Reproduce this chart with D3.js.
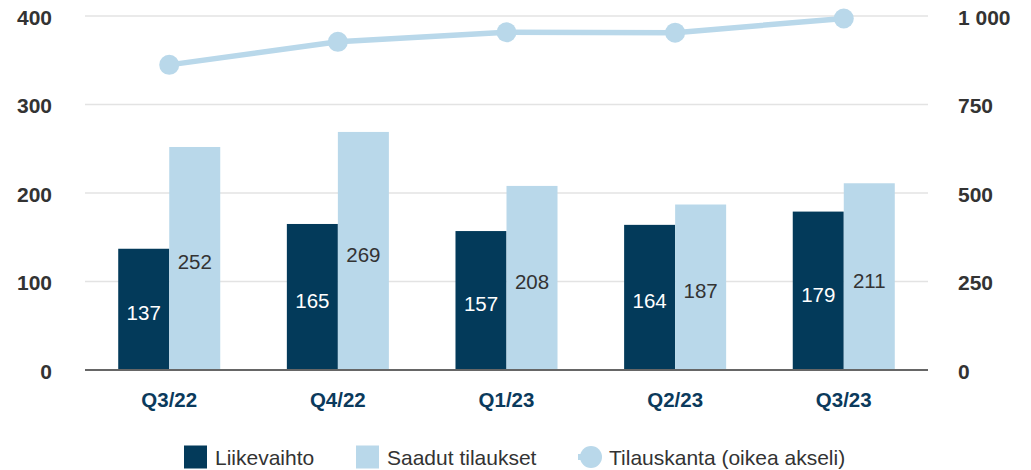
<!DOCTYPE html>
<html>
<head>
<meta charset="utf-8">
<script src="https://cdn.jsdelivr.net/npm/d3@7"></script>
<style>
  body { margin: 0; background: #fff; }
  text { font-family: "Liberation Sans", Arial, sans-serif; }
</style>
</head>
<body>
<script>
var quarters = ["Q3/22", "Q4/22", "Q1/23", "Q2/23", "Q3/23"];
var liikevaihto = [137, 165, 157, 164, 179];
var tilaukset = [252, 269, 208, 187, 211];
var tilauskanta = [862, 927, 954, 953, 993];
var leftTicks = [0, 100, 200, 300, 400];
var rightTicks = [0, 250, 500, 750, 1000];

var dark = "#033a5a", light = "#b9d8ea";

var margin = {top: 16, right: 103, bottom: 100, left: 85},
    width = 1031 - margin.left - margin.right,
    height = 470 - margin.top - margin.bottom;

var svg = d3.select("body").append("svg")
    .attr("width", 1031)
    .attr("height", 470)
  .append("g")
    .attr("transform", "translate(" + margin.left + "," + margin.top + ")");

var x = d3.scaleBand().domain(quarters).range([0, width]).paddingInner(0.395).paddingOuter(0.197);
var y = d3.scaleLinear().domain([0, 400]).range([height, 0]);
var y2 = d3.scaleLinear().domain([0, 1000]).range([height, 0]);
var bw = x.bandwidth() / 2;

// grid
svg.selectAll("line.grid")
    .data(leftTicks.slice(1))
  .enter().append("line")
    .attr("x1", 0).attr("x2", width)
    .attr("y1", function(d) { return y(d); })
    .attr("y2", function(d) { return y(d); })
    .attr("stroke", "#e3e3e3")
    .attr("stroke-width", 1.5);

// left axis
var yAxis = svg.append("g")
    .call(d3.axisLeft(y).tickValues(leftTicks).tickSize(0).tickPadding(33));
yAxis.select(".domain").remove();
yAxis.selectAll("text")
    .attr("dy", ".4em")
    .style("font-size", "21px").style("font-weight", "bold").attr("fill", "#333");

// right axis
var yAxis2 = svg.append("g")
    .attr("transform", "translate(" + width + ",0)")
    .call(d3.axisRight(y2).tickValues(rightTicks).tickSize(0).tickPadding(30)
      .tickFormat(function(d) { return d3.format(",")(d).replace(",", " "); }));
yAxis2.select(".domain").remove();
yAxis2.selectAll("text")
    .attr("dy", ".4em")
    .style("font-size", "21px").style("font-weight", "bold").attr("fill", "#333");

// bars
svg.selectAll("rect.lv")
    .data(liikevaihto)
  .enter().append("rect")
    .attr("x", function(d, i) { return x(quarters[i]); })
    .attr("y", function(d) { return y(d); })
    .attr("width", bw)
    .attr("height", function(d) { return height - y(d); })
    .attr("fill", dark);

svg.selectAll("rect.st")
    .data(tilaukset)
  .enter().append("rect")
    .attr("x", function(d, i) { return x(quarters[i]) + bw; })
    .attr("y", function(d) { return y(d); })
    .attr("width", bw)
    .attr("height", function(d) { return height - y(d); })
    .attr("fill", light);

// bar labels
svg.selectAll("text.lv")
    .data(liikevaihto)
  .enter().append("text")
    .attr("x", function(d, i) { return x(quarters[i]) + bw / 2; })
    .attr("y", function(d) { return (y(d) + height) / 2 + 3.5; })
    .attr("dy", ".36em")
    .attr("text-anchor", "middle")
    .style("font-size", "20.5px")
    .attr("fill", "#fff")
    .text(function(d) { return d; });

svg.selectAll("text.st")
    .data(tilaukset)
  .enter().append("text")
    .attr("x", function(d, i) { return x(quarters[i]) + bw * 1.5; })
    .attr("y", function(d) { return (y(d) + height) / 2 + 3.5; })
    .attr("dy", ".36em")
    .attr("text-anchor", "middle")
    .style("font-size", "20.5px")
    .attr("fill", "#333")
    .text(function(d) { return d; });

// baseline
svg.append("line")
    .attr("x1", 0).attr("x2", width)
    .attr("y1", height).attr("y2", height)
    .attr("stroke", "#666").attr("stroke-width", 2);

// x labels
svg.selectAll("text.xl")
    .data(quarters)
  .enter().append("text")
    .attr("x", function(d) { return x(d) + x.bandwidth() / 2; })
    .attr("y", height + 30)
    .attr("dy", ".36em")
    .attr("text-anchor", "middle")
    .style("font-size", "20.5px").style("font-weight", "bold")
    .attr("fill", "#0b3a5c")
    .text(function(d) { return d; });

// line
var line = d3.line()
    .x(function(d, i) { return x(quarters[i]) + x.bandwidth() / 2; })
    .y(function(d) { return y2(d); });

svg.append("path")
    .datum(tilauskanta)
    .attr("d", line)
    .attr("fill", "none")
    .attr("stroke", light)
    .attr("stroke-width", 5.5);

svg.selectAll("circle.tk")
    .data(tilauskanta)
  .enter().append("circle")
    .attr("cx", function(d, i) { return x(quarters[i]) + x.bandwidth() / 2; })
    .attr("cy", function(d) { return y2(d); })
    .attr("r", 10)
    .attr("fill", light);

// legend
var legend = d3.select("svg").append("g");
var ly = 457;
legend.append("rect").attr("x", 184).attr("y", ly - 11.5).attr("width", 23).attr("height", 23).attr("fill", dark);
legend.append("text").attr("x", 215).attr("y", ly).attr("dy", ".36em")
    .style("font-size", "21px").attr("fill", "#333").text("Liikevaihto");
legend.append("rect").attr("x", 356).attr("y", ly - 11.5).attr("width", 23).attr("height", 23).attr("fill", light);
legend.append("text").attr("x", 387).attr("y", ly).attr("dy", ".36em")
    .style("font-size", "21px").attr("fill", "#333").text("Saadut tilaukset");
legend.append("line").attr("x1", 578).attr("x2", 600).attr("y1", ly).attr("y2", ly)
    .attr("stroke", light).attr("stroke-width", 6);
legend.append("circle").attr("cx", 591).attr("cy", ly).attr("r", 11).attr("fill", light);
legend.append("text").attr("x", 609).attr("y", ly).attr("dy", ".36em")
    .style("font-size", "21px").attr("fill", "#333").text("Tilauskanta (oikea akseli)");
</script>
</body>
</html>
